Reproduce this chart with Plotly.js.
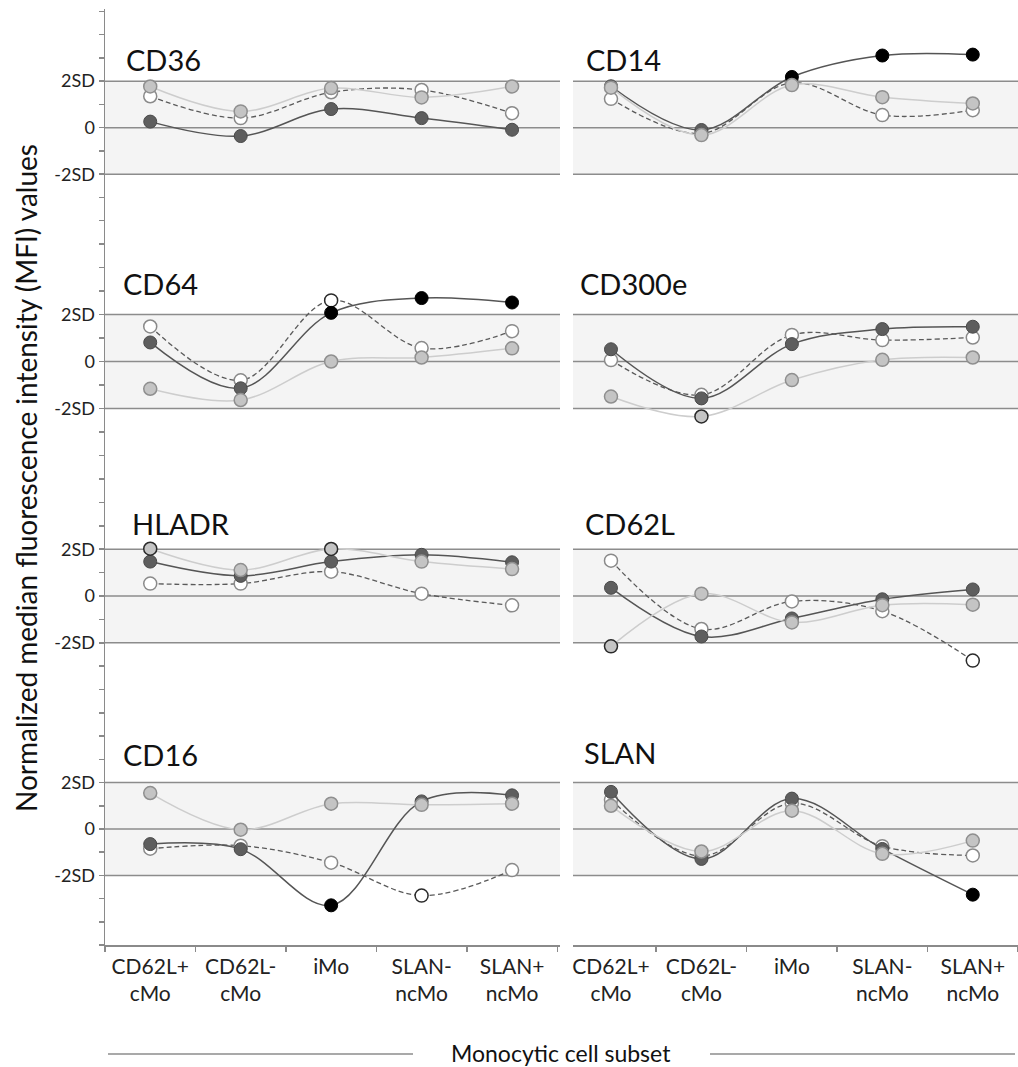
<!DOCTYPE html>
<html>
<head>
<meta charset="utf-8">
<script src="https://cdn.plot.ly/plotly-3.0.1.min.js"></script>
<style>html,body{margin:0;padding:0;background:#fff;}#chart{width:1018px;height:1067px;}</style>
</head>
<body>
<div id="chart"></div>
<script>
// ---- data (values in SD units) ----
const categories = ['CD62L+<br>cMo', 'CD62L-<br>cMo', 'iMo', 'SLAN-<br>ncMo', 'SLAN+<br>ncMo'];
const markerNames = ['CD36', 'CD14', 'CD64', 'CD300e', 'HLADR', 'CD62L', 'CD16', 'SLAN'];
// dark filled markers, solid dark line
const seriesA = [
  [0.26, -0.36, 0.80, 0.41, -0.09],
  [1.78, -0.10, 2.18, 3.10, 3.14],
  [0.81, -1.14, 2.07, 2.70, 2.51],
  [0.52, -1.57, 0.74, 1.38, 1.48],
  [1.47, 0.86, 1.47, 1.76, 1.44],
  [0.35, -1.73, -0.96, -0.14, 0.28],
  [-0.65, -0.87, -3.29, 1.19, 1.45],
  [1.60, -1.29, 1.31, -0.86, -2.83]
];
// light gray filled markers, light solid line
const seriesB = [
  [1.77, 0.70, 1.70, 1.30, 1.77],
  [1.72, -0.32, 1.83, 1.31, 1.04],
  [-1.16, -1.64, 0.00, 0.17, 0.56],
  [-1.49, -2.34, -0.79, 0.07, 0.17],
  [2.02, 1.11, 2.01, 1.47, 1.15],
  [-2.15, 0.10, -1.13, -0.39, -0.37],
  [1.55, -0.03, 1.09, 1.04, 1.09],
  [1.00, -0.97, 0.79, -1.07, -0.50]
];
// open markers, dashed line
const seriesC = [
  [1.35, 0.41, 1.52, 1.62, 0.62],
  [1.24, -0.25, 1.93, 0.54, 0.75],
  [1.49, -0.80, 2.60, 0.57, 1.29],
  [0.06, -1.42, 1.13, 0.91, 1.02],
  [0.53, 0.53, 1.04, 0.10, -0.40],
  [1.51, -1.41, -0.23, -0.65, -2.76],
  [-0.85, -0.72, -1.45, -2.87, -1.77],
  [1.26, -1.17, 1.11, -0.74, -1.14]
];
const sdTickVals = [-5, -4, -3, -2, -1, 0, 1, 2, 3, 4, 5];
const sdTickText = ['', '', '', '-2SD', '', '0', '', '2SD', '', '', ''];
const yTitle = 'Normalized median fluorescence intensity (MFI) values';
const xTitle = 'Monocytic cell subset';

// ---- layout helpers ----
const W = 1018, H = 1067;
const FONT = 'Lato, "Open Sans", sans-serif';
const px = v => v / W;
const py = v => 1 - v / H;
const colX = [[105, 560], [573, 1018]];
const colRange = [[-0.5, 4.53], [-0.42, 4.5]];
const rowY = [[9, 244], [244, 479], [479, 713], [713, 945]];
const titlePos = [[124, 60], [584, 60], [121, 284], [578, 284], [130, 523], [583, 523], [121, 754], [582, 752]];

const traces = [];
const layout = {
  width: W, height: H,
  margin: {l: 0, r: 0, t: 0, b: 0},
  paper_bgcolor: '#fff', plot_bgcolor: 'rgba(0,0,0,0)',
  showlegend: false, hovermode: false,
  font: {family: FONT, color: '#222'},
  shapes: [], annotations: []
};

const outline = (vals, normal) => vals.map(v => Math.abs(v) > 2 ? '#2a2a2a' : normal);

for (let p = 0; p < markerNames.length; p++) {
  const r = Math.floor(p / 2), c = p % 2, i = p + 1;
  const xa = 'xaxis' + (i === 1 ? '' : i), ya = 'yaxis' + (i === 1 ? '' : i);
  const xr = 'x' + (i === 1 ? '' : i), yr = 'y' + (i === 1 ? '' : i);
  const bottom = r === 3;
  const yr0 = r === 0 ? [-5, 5.1] : [-5, 5];
  layout[xa] = {
    domain: [px(colX[c][0]), px(colX[c][1])],
    anchor: yr, type: 'category', range: colRange[c],
    showgrid: false, zeroline: false, fixedrange: true,
    showline: bottom, linecolor: '#8a8a8a', linewidth: 1.5,
    ticks: bottom ? 'outside' : '', tickson: 'boundaries', ticklen: 5, tickcolor: '#8a8a8a', tickwidth: 1.5,
    showticklabels: bottom, tickfont: {family: FONT, size: 21, color: '#222'}, ticklabelstandoff: 2,
    categoryorder: 'array', categoryarray: categories
  };
  layout[ya] = {
    domain: [py(rowY[r][1]), py(rowY[r][0])],
    anchor: xr, range: yr0, fixedrange: true,
    showgrid: false, zeroline: false,
    showline: c === 0, linecolor: '#8a8a8a', linewidth: 1.5,
    ticks: c === 0 ? 'outside' : '', ticklen: 5, tickcolor: '#8a8a8a', tickwidth: 1.5,
    tickmode: 'array', tickvals: sdTickVals, ticktext: sdTickText,
    showticklabels: c === 0, tickfont: {family: FONT, size: 18, color: '#222'}
  };
  // normal range band and reference lines
  layout.shapes.push({type: 'rect', xref: xr + ' domain', yref: yr, x0: 0, x1: 1, y0: -2, y1: 2,
    fillcolor: '#f4f4f4', line: {width: 0}, layer: 'below'});
  [-2, 0, 2].forEach(v => layout.shapes.push({type: 'line', xref: xr + ' domain', yref: yr,
    x0: 0, x1: 1, y0: v, y1: v, line: {color: '#8c8c8c', width: 1.5}, layer: 'below'}));
  // panel title
  layout.annotations.push({text: markerNames[p], xref: 'paper', yref: 'paper',
    x: px(titlePos[p][0]), y: py(titlePos[p][1]), xanchor: 'left', yanchor: 'middle',
    showarrow: false, font: {family: FONT, size: 29, color: '#111'}});

  // series C (open, dashed)
  traces.push({type: 'scatter', mode: 'lines+markers', x: categories, y: seriesC[p], xaxis: xr, yaxis: yr,
    line: {shape: 'spline', color: '#5a5a5a', width: 1.3, dash: '5px,3px'},
    marker: {size: 13, color: '#ffffff', line: {color: outline(seriesC[p], '#8a8a8a'), width: 1.5}},
    cliponaxis: false});
  // series A (dark)
  traces.push({type: 'scatter', mode: 'lines+markers', x: categories, y: seriesA[p], xaxis: xr, yaxis: yr,
    line: {shape: 'spline', color: '#555555', width: 1.5},
    marker: {size: 13, color: seriesA[p].map(v => Math.abs(v) > 2 ? '#000000' : '#5e5e5e'),
      line: {color: seriesA[p].map(v => Math.abs(v) > 2 ? '#000000' : '#4a4a4a'), width: 1}},
    cliponaxis: false});
  // series B (light gray)
  traces.push({type: 'scatter', mode: 'lines+markers', x: categories, y: seriesB[p], xaxis: xr, yaxis: yr,
    line: {shape: 'spline', color: '#cdcdcd', width: 1.5},
    marker: {size: 13, color: '#c4c4c4', line: {color: outline(seriesB[p], '#8f8f8f'), width: 1.5}},
    cliponaxis: false});
}

// y axis title
layout.annotations.push({text: yTitle, xref: 'paper', yref: 'paper', x: px(26), y: py(478),
  xanchor: 'center', yanchor: 'middle', textangle: -90, showarrow: false,
  font: {family: FONT, size: 28, color: '#111'}});
// x axis title with side rules
layout.annotations.push({text: xTitle, xref: 'paper', yref: 'paper', x: px(561), y: py(1053),
  xanchor: 'center', yanchor: 'middle', showarrow: false,
  font: {family: FONT, size: 23, color: '#111'}});
layout.shapes.push({type: 'line', xref: 'paper', yref: 'paper', x0: px(108), x1: px(413), y0: py(1054), y1: py(1054),
  line: {color: '#555', width: 1.2}});
layout.shapes.push({type: 'line', xref: 'paper', yref: 'paper', x0: px(710), x1: px(1015), y0: py(1054), y1: py(1054),
  line: {color: '#555', width: 1.2}});

Plotly.newPlot('chart', traces, layout, {displayModeBar: false, staticPlot: true});
</script>
</body>
</html>
